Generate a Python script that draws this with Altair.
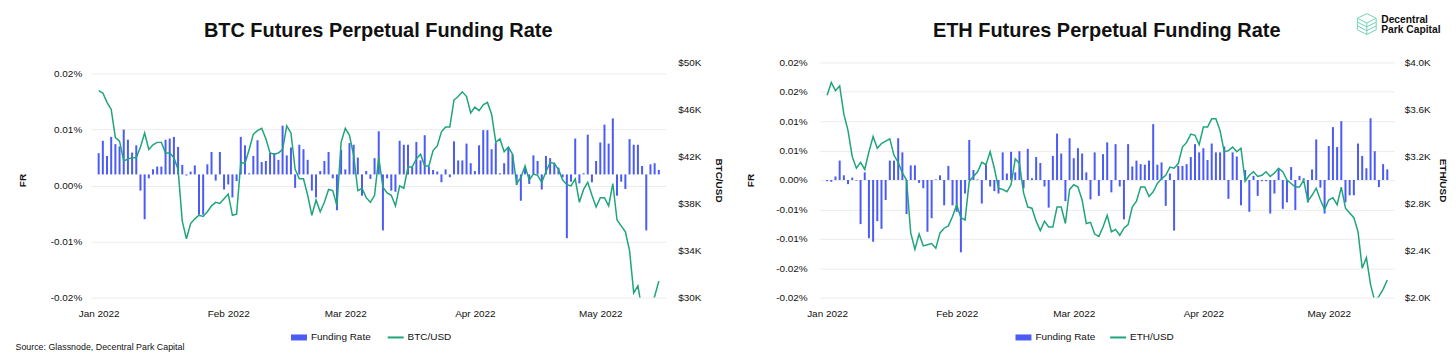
import altair as alt
import pandas as pd

FONT = "Liberation Sans"
BLUE = "#4a5bf6"
GREEN = "#1fa47c"
LOGO_GREEN = "#72d3b6"
TEXT = "#111111"
GRID = "#ececec"

# ---------------- data ----------------
DATES = pd.date_range("2022-01-01", periods=135, freq="D")
MONTHS = [1, 2, 3, 4, 5]

BTC_FR = [
    0.0038, 0.0060, 0.0033, 0.0067, 0.0054, 0.0050, 0.0080, 0.0062, 0.0039, 0.0052,
    -0.0029, -0.0080, -0.0007, 0.0009, 0.0014, 0.0014, 0.0062, 0.0064, 0.0067, 0.0049,
    0.0017, -0.0002, 0.0005, 0.0016, -0.0072, -0.0072, 0.0018, 0.0040, -0.0011, 0.0040,
    -0.0027, -0.0018, -0.0041, -0.0012, 0.0067, 0.0052, 0.0002, 0.0033, 0.0061, 0.0022,
    0.0024, 0.0038, 0.0038, 0.0026, 0.0087, 0.0034, 0.0048, -0.0024, 0.0053, 0.0045,
    0.0026, -0.0029, -0.0041, 0.0006, 0.0024, 0.0040, -0.0007, -0.0064, 0.0044, 0.0009,
    0.0056, 0.0053, 0.0030, -0.0038, 0.0006, -0.0008, 0.0029, 0.0077, -0.0100, -0.0007,
    -0.0029, -0.0031, 0.0060, 0.0053, 0.0053, 0.0014, 0.0058, 0.0025, 0.0070, 0.0014,
    0.0008, 0.0005, -0.0014, 0.0009, -0.0005, 0.0059, 0.0025, 0.0025, 0.0055, 0.0020,
    0.0006, 0.0052, 0.0079, 0.0079, 0.0045, 0.0056, 0.0002, 0.0020, 0.0048, 0.0036,
    -0.0019, -0.0047, 0.0011, -0.0017, 0.0034, 0.0024, -0.0027, 0.0033, 0.0029, 0.0021,
    0.0012, -0.0005, -0.0114, -0.0013, 0.0064, -0.0016, 0.0002, 0.0071, -0.0014, 0.0024,
    0.0057, 0.0089, 0.0055, 0.0100, -0.0038, -0.0013, -0.0026, 0.0063, 0.0053, 0.0053,
    0.0015, -0.0100, 0.0018, 0.0020, 0.0008,
]

BTC_USD_K = [
    47.6, 47.4, 46.6, 46.0, 43.6, 43.3, 41.6, 41.8, 41.9, 41.9,
    42.8, 44.0, 42.6, 43.0, 43.2, 43.2, 42.3, 42.3, 41.9, 40.9,
    36.5, 35.0, 36.3, 36.7, 37.0, 36.9, 37.3, 37.8, 38.1, 38.0,
    38.4, 38.8, 37.0, 37.1, 41.5, 41.4, 42.6, 43.9, 44.2, 44.4,
    43.5, 42.3, 42.2, 42.3, 42.6, 44.6, 44.0, 40.9, 40.1, 40.1,
    38.7, 37.0, 38.3, 37.3, 38.1, 39.2, 39.1, 37.8, 43.2, 44.4,
    43.8, 42.1, 39.1, 39.3, 38.5, 38.1, 38.7, 41.9, 39.4, 38.9,
    38.7, 37.8, 39.5, 39.3, 41.1, 41.1, 41.8, 42.2, 41.2, 41.2,
    42.5, 42.9, 44.1, 44.5, 44.5, 46.8, 47.1, 47.5, 47.1, 45.7,
    46.2, 45.9, 46.4, 46.6, 45.6, 43.2, 43.5, 42.4, 42.8, 42.2,
    39.7, 40.2, 41.2, 40.0, 40.5, 40.4, 39.8, 40.7, 41.5, 41.4,
    40.9, 40.0, 39.6, 39.5, 40.1, 38.1, 39.2, 39.8, 38.7, 37.7,
    38.5, 38.5, 37.8, 39.7, 36.6, 36.1, 35.6, 34.0, 30.4, 31.0,
    28.9, 29.0, 29.3, 30.1, 31.4,
]

ETH_FR = [
    -0.0002, -0.0003, 0.0006, 0.0033, 0.0008, -0.0007, 0.0004, -0.0001, -0.0075, 0.0013,
    -0.0099, -0.0105, -0.0070, -0.0083, -0.0034, 0.0033, 0.0033, 0.0071, 0.0047, -0.0058,
    0.0025, 0.0025, -0.0005, -0.0014, -0.0088, -0.0065, 0.0001, 0.0008, -0.0043, 0.0024,
    -0.0043, -0.0054, -0.0123, -0.0023, 0.0068, 0.0017, 0.0001, -0.0040, 0.0026, -0.0011,
    -0.0019, -0.0023, 0.0047, 0.0011, 0.0048, 0.0013, 0.0049, -0.0014, 0.0053, 0.0003,
    0.0039, 0.0029, -0.0011, -0.0047, 0.0041, 0.0079, 0.0045, -0.0036, 0.0071, 0.0037,
    0.0054, 0.0045, 0.0013, -0.0033, 0.0047, -0.0027, 0.0044, 0.0064, -0.0021, 0.0061,
    -0.0011, -0.0067, 0.0061, 0.0023, 0.0033, 0.0027, 0.0026, 0.0033, 0.0095, 0.0026,
    0.0030, -0.0044, 0.0011, -0.0086, 0.0024, 0.0024, 0.0027, 0.0039, 0.0061, 0.0047,
    0.0054, 0.0034, 0.0062, 0.0047, 0.0047, 0.0057, -0.0032, 0.0047, 0.0040, -0.0043,
    0.0017, -0.0054, 0.0007, -0.0027, -0.0002, -0.0002, -0.0057, -0.0023, 0.0017, -0.0049,
    -0.0038, 0.0022, -0.0051, 0.0007, 0.0003, -0.0038, 0.0018, 0.0069, -0.0013, -0.0057,
    0.0058, 0.0090, 0.0056, 0.0100, -0.0038, -0.0026, -0.0026, 0.0062, 0.0041, 0.0020,
    0.0105, 0.0049, -0.0012, 0.0027, 0.0018,
]

ETH_USD_K = [
    3.72, 3.83, 3.76, 3.80, 3.56, 3.42, 3.20, 3.10, 3.15, 3.09,
    3.24, 3.37, 3.27, 3.31, 3.33, 3.35, 3.21, 3.15, 3.06, 3.00,
    2.55, 2.41, 2.54, 2.44, 2.45, 2.46, 2.42, 2.55, 2.59, 2.61,
    2.69, 2.79, 2.68, 2.66, 2.99, 3.03, 3.07, 3.15, 3.13, 3.24,
    3.10, 2.93, 2.92, 2.90, 2.96, 3.18, 3.14, 2.89, 2.77, 2.76,
    2.65, 2.57, 2.65, 2.60, 2.60, 2.77, 2.77, 2.63, 2.92, 2.96,
    2.94, 2.83, 2.63, 2.64, 2.54, 2.52, 2.60, 2.70, 2.56, 2.58,
    2.53, 2.59, 2.62, 2.77, 2.82, 2.94, 2.94, 2.86, 2.90, 2.97,
    3.01, 3.04, 3.11, 3.10, 3.14, 3.28, 3.32, 3.39, 3.38, 3.30,
    3.45, 3.45, 3.52, 3.52, 3.42, 3.24, 3.25, 3.28, 3.24, 3.27,
    2.99, 3.04, 3.07, 3.03, 3.04, 3.07, 3.03, 3.06, 3.10, 3.07,
    3.00, 2.97, 2.94, 2.94, 3.00, 2.82, 2.87, 2.93, 2.83, 2.75,
    2.83, 2.85, 2.79, 2.94, 2.76, 2.72, 2.68, 2.56, 2.25, 2.34,
    2.11, 1.97, 2.01, 2.07, 2.15,
]

BTC_FR_TICKS = [-0.022, -0.012, -0.002, 0.008, 0.018]
BTC_FR_LABELS = ["-0.02%", "-0.01%", "0.00%", "0.01%", "0.02%"]
BTC_FR_DOMAIN = [-0.022, 0.020]
BTC_USD_TICKS = [30, 34, 38, 42, 46, 50]

ETH_FR_TICKS = [-0.02, -0.015, -0.01, -0.005, 0.0, 0.005, 0.01, 0.015, 0.02]
ETH_FR_LABELS = ["-0.02%", "-0.02%", "-0.01%", "-0.01%", "0.00%", "0.01%", "0.01%", "0.02%", "0.02%"]
ETH_FR_DOMAIN = [-0.02, 0.02]
ETH_USD_TICKS = [2.0, 2.4, 2.8, 3.2, 3.6, 4.0]

FR_NAME = "Funding Rate"
BTC_NAME = "BTC/USD"
ETH_NAME = "ETH/USD"
BTC_TITLE = "BTC Futures Perpetual Funding Rate"
ETH_TITLE = "ETH Futures Perpetual Funding Rate"
SOURCE = "Source: Glassnode, Decentral Park Capital"
LOGO_LINES = ["Decentral", "Park Capital"]

W, H = 577, 236
RECT_PATH = "M-1,-0.375H1V0.375H-1Z"
CUBE_PATH = ("M0,-1L0.9,-0.55L0.9,0.55L0,1L-0.9,0.55L-0.9,-0.55Z"
             "M-0.9,-0.55L0,-0.1L0.9,-0.55M0,-0.1L0,1"
             "M-0.9,-0.18L0,0.27L0.9,-0.18M-0.9,0.18L0,0.63L0.9,0.18")


def label_expr(ticks, labels):
    parts = [f"abs(datum.value - ({t})) < 0.0001 ? '{l}'" for t, l in zip(ticks, labels)]
    return " : ".join(parts) + " : ''"


def text_layer(txt, x, y, size, weight="normal", align="left"):
    return alt.Chart(pd.DataFrame({"t": [txt]})).mark_text(
        align=align, baseline="middle", font=FONT, fontSize=size,
        fontWeight=weight, color=TEXT
    ).encode(text="t:N", x=alt.value(x), y=alt.value(y))


def panel(title, title_offset, fr, price, price_name, fr_ticks, fr_labels, fr_domain,
          fr_pad, fr_title_pad, price_ticks, price_domain, price_fmt, price_pad,
          price_title_pad, leg_x_bar, leg_x_line, extras):
    df = pd.DataFrame({"date": DATES, "fr": fr, "price": price,
                       "s_fr": FR_NAME, "s_px": price_name})
    x = alt.X(
        "date:T",
        scale=alt.Scale(domain=[alt.DateTime(year=2021, month=12, date=31, hours=7),
                                alt.DateTime(year=2022, month=5, date=15, hours=11)]),
        axis=alt.Axis(values=[alt.DateTime(year=2022, month=m, date=1) for m in MONTHS],
                      format="%b %Y", title=None, labelPadding=11, labelFlush=False,
                      ticks=False, tickSize=0, domain=False, grid=False),
    )
    bars = alt.Chart(df).mark_bar(size=2).encode(
        x=x,
        y=alt.Y("fr:Q",
                scale=alt.Scale(domain=fr_domain, nice=False, zero=False),
                axis=alt.Axis(orient="left", title="FR", values=fr_ticks,
                              labelExpr=label_expr(fr_ticks, fr_labels),
                              labelPadding=fr_pad, titlePadding=fr_title_pad, grid=True,
                              ticks=False, tickSize=0, domain=False)),
        color=alt.Color(
            "s_fr:N",
            scale=alt.Scale(domain=[FR_NAME], range=[BLUE]),
            legend=alt.Legend(orient="none", legendX=leg_x_bar, legendY=267, title=None,
                              symbolType=RECT_PATH, symbolSize=256, labelOffset=3,
                              direction="horizontal")),
    )
    line = alt.Chart(df).mark_line(strokeWidth=1.5, clip=True).encode(
        x=x,
        y=alt.Y("price:Q",
                scale=alt.Scale(domain=price_domain, nice=False, zero=False),
                axis=alt.Axis(orient="right", title=price_name, values=price_ticks,
                              labelExpr=f"'$' + format(datum.value, '{price_fmt}') + 'K'",
                              labelPadding=price_pad, titlePadding=price_title_pad,
                              grid=False, ticks=False, tickSize=0, domain=False)),
        stroke=alt.Stroke(
            "s_px:N",
            scale=alt.Scale(domain=[price_name], range=[GREEN]),
            legend=alt.Legend(orient="none", legendX=leg_x_line, legendY=267, title=None,
                              symbolType="stroke", symbolSize=256, symbolStrokeWidth=2,
                              labelOffset=3, direction="horizontal")),
    )
    return alt.layer(bars, line, *extras).resolve_scale(y="independent").properties(
        width=W, height=H,
        title=alt.TitleParams(title, font=FONT, fontSize=20, fontWeight="bold", color=TEXT,
                              anchor="middle", frame="group", baseline="alphabetic",
                              offset=title_offset),
    )


btc_extras = [text_layer(SOURCE, -75.5, 286, 8.9)]
cube = alt.Chart(pd.DataFrame({"k": [0]})).mark_point(
    shape=CUBE_PATH, size=441, filled=False, stroke=LOGO_GREEN, strokeWidth=1, opacity=1
).encode(x=alt.value(549.5), y=alt.value(-38.5))
eth_extras = [cube,
              text_layer(LOGO_LINES[0], 564, -43, 10.3, "bold"),
              text_layer(LOGO_LINES[1], 564, -33, 10.3, "bold")]

btc = panel(BTC_TITLE, 0.5, BTC_FR, BTC_USD_K, BTC_NAME, BTC_FR_TICKS, BTC_FR_LABELS,
            BTC_FR_DOMAIN, 9, 23, BTC_USD_TICKS, [30, 50], ".0f", 12, 13, 200, 297,
            btc_extras)
eth = panel(ETH_TITLE, -45, ETH_FR, ETH_USD_K, ETH_NAME, ETH_FR_TICKS, ETH_FR_LABELS,
            ETH_FR_DOMAIN, 12, 20, ETH_USD_TICKS, [2.0, 4.0], ".1f", 10, 7, 196, 291,
            eth_extras)

chart = alt.hconcat(btc, eth, spacing=21).resolve_scale(
    color="independent", stroke="independent"
).resolve_legend(
    color="independent", stroke="independent"
).properties(
    padding={"left": 7, "top": 3, "right": 0, "bottom": 2},
    background="white",
).configure_view(stroke=None).configure_axis(
    labelFont=FONT, labelFontSize=10, labelColor=TEXT,
    titleFont=FONT, titleFontSize=10, titleFontWeight="bold", titleColor=TEXT,
    gridColor=GRID, gridWidth=1,
).configure_legend(
    labelFont=FONT, labelFontSize=10, labelColor=TEXT, padding=0,
)

chart.save("out.html", embed_options={"renderer": "svg", "actions": False})
